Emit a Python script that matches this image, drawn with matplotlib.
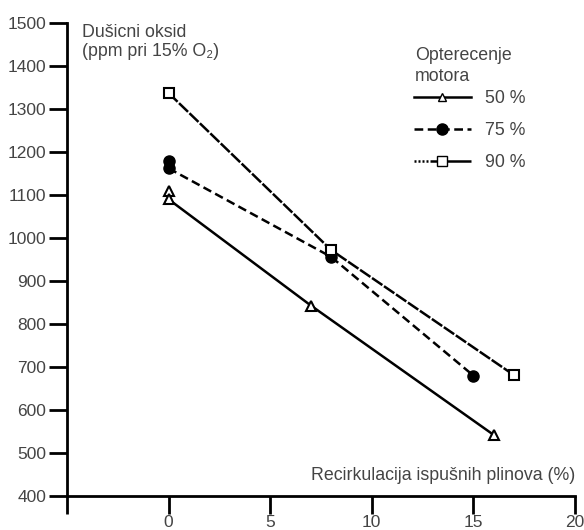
import matplotlib.pyplot as plt

plt.rcParams['font.family'] = ['Liberation Sans', 'DejaVu Sans']

# recirculation (%) and NOx (ppm) for each engine load
x_50 = [0, 0, 7, 16]
y_50 = [1110, 1090, 843, 542]
x_75 = [0, 0, 8, 15]
y_75 = [1180, 1162, 956, 680]
x_90 = [0, 8, 17]
y_90 = [1337, 972, 681]

loads = ['50 %', '75 %', '90 %']
xticks = [-5, 0, 5, 10, 15, 20]
xticklabels = ['', '0', '5', '10', '15', '20']
yticks = list(range(400, 1501, 100))

txt = '#444444'
fs = 12.8

fig = plt.figure(figsize=(5.84, 5.30), dpi=100)
ax = fig.add_axes([67 / 584, 34 / 530, 508 / 584, 473 / 530])

# 50 %: solid, open triangles (line starts at the lower point)
ax.plot(x_50[1:], y_50[1:], color='black', lw=1.8, ls='-', zorder=2)
ax.plot(x_50, y_50, ls='none', marker='^', ms=7, mfc='white', mec='black', mew=1.5, zorder=3)
# 75 %: dashed, filled circles
ax.plot(x_75[1:], y_75[1:], color='black', lw=1.8, ls=(0, (3.5, 1.8)), zorder=2)
ax.plot(x_75, y_75, ls='none', marker='o', ms=8, color='black', zorder=3)
# 90 %: fine dashes, open squares
ax.plot(x_90, y_90, color='black', lw=1.8, ls=(0, (5, 0.8)), zorder=2)
ax.plot(x_90, y_90, ls='none', marker='s', ms=7, mfc='white', mec='black', mew=1.5, zorder=3)

h1, = ax.plot([], [], color='black', lw=1.8, ls='-', marker='^', ms=6, mfc='white', mec='black')
h2, = ax.plot([], [], color='black', lw=1.8, ls=(0, (3.5, 1.8)), marker='o', ms=8)
h3, = ax.plot([], [], color='black', lw=1.8,
              ls=(0, (0.8, 0.8, 0.8, 0.8, 0.8, 0.8, 0.8, 0.8, 30, 1)),
              marker='s', ms=7, mfc='white', mec='black')
leg = ax.legend([h1, h2, h3], loads, loc='center left',
                bbox_to_anchor=(414 / 584, (530 - 130.5) / 530),
                bbox_transform=fig.transFigure, frameon=False, fontsize=fs,
                handlelength=3.2, handletextpad=0.8,
                labelspacing=0.85, borderpad=0, borderaxespad=0)
for t in leg.get_texts():
    t.set_color(txt)

# legend title
fig.text(415 / 584, (530 - 60) / 530, 'Opterecenje', ha='left', va='baseline',
         fontsize=fs, color=txt)
fig.text(415 / 584, (530 - 81) / 530, 'motora', ha='left', va='baseline',
         fontsize=fs, color=txt)

ax.set_xlim(-5, 20)
ax.set_ylim(400, 1500)
ax.set_xticks(xticks)
ax.set_xticklabels(xticklabels)
ax.set_yticks(yticks)

for s in ['top', 'right']:
    ax.spines[s].set_visible(False)
for s in ['left', 'bottom']:
    ax.spines[s].set_linewidth(2)
ax.tick_params(direction='out', length=13, width=2, colors='black',
               labelcolor=txt, labelsize=12.5)
ax.tick_params(axis='x', pad=1)
ax.tick_params(axis='y', pad=2)

ax.text(0.03, 0.997, 'Dušicni oksid\n(ppm pri 15% O₂)', transform=ax.transAxes,
        ha='left', va='top', fontsize=fs, color=txt, linespacing=1.1)
ax.text(1.0, 0.025, 'Recirkulacija ispušnih plinova (%)', transform=ax.transAxes,
        ha='right', va='bottom', fontsize=fs, color=txt)

fig.savefig('out.png', dpi=100)
